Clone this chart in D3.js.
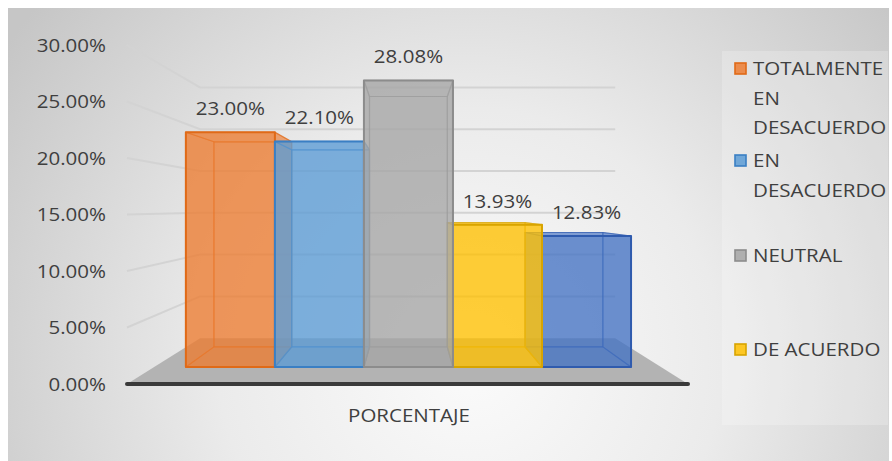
<!DOCTYPE html>
<html>
<head>
<meta charset="utf-8">
<script src="https://cdn.jsdelivr.net/npm/d3@7"></script>
<style>
  html, body { margin: 0; padding: 0; background: #ffffff; }
  svg { display: block; }
  text { font-family: "Open Sans", "Noto Sans", sans-serif; fill: #3F3F3F; }
</style>
</head>
<body>
<svg id="chart" width="892" height="461"></svg>
<script>
// ---- data ----
const categories = ["TOTALMENTE EN DESACUERDO", "EN DESACUERDO", "NEUTRAL", "DE ACUERDO", "TOTALMENTE DE ACUERDO"];
const values = [23.00, 22.10, 28.08, 13.93, 12.83];
const yTicks = [0, 5, 10, 15, 20, 25, 30];
const axisTitle = "PORCENTAJE";

// ---- styles ----
const fills   = ["#ED7D31", "#5B9BD5", "#A5A5A5", "#FFC000", "#4472C4"];
const strokes = ["#E06A17", "#3A7FC4", "#8C8C8C", "#D8A400", "#2F5BAE"];

const W = 892, H = 461;
const svg = d3.select("#chart");
const defs = svg.append("defs");

// chart area background: soft radial shading
const grad = defs.append("radialGradient").attr("id", "bg")
  .attr("gradientUnits", "userSpaceOnUse")
  .attr("cx", 470).attr("cy", 360).attr("r", 560);
grad.append("stop").attr("offset", "0%").attr("stop-color", "#FBFBFB");
grad.append("stop").attr("offset", "45%").attr("stop-color", "#EBEBEB");
grad.append("stop").attr("offset", "100%").attr("stop-color", "#C6C6C6");

svg.append("rect").attr("x", 8).attr("y", 8).attr("width", 881).attr("height", H - 8)
  .attr("fill", "url(#bg)");

// ---- 3D projection ----
// Values live on a front plane; depth shrinks points toward a vanishing point.
const vp = [408, 208];
const sFront = 0.903, sBack = 0.789, sWall = 0.74;
const proj = (x, y, s) => [vp[0] + (x - vp[0]) * s, vp[1] + (y - vp[1]) * s];

const y = d3.scaleLinear().domain([0, 30]).range([384, 45]);
const plotX = [127, 688];
const x = d3.scaleBand().domain(categories).range([162, 655]).padding(0);

// text helper: slight horizontal stretch of the face
const SX = 1.14;
function label(g, tx, ty, str, size, anchor) {
  return g.append("text")
    .attr("transform", `translate(${tx},${ty}) scale(${SX},1)`)
    .attr("text-anchor", anchor)
    .style("font-size", size + "px")
    .text(str);
}

// ---- gridlines: side wall diagonal + back wall horizontal ----
const line = d3.line();
const grid = svg.append("g");
yTicks.forEach(t => {
  if (t === 0) return;
  const a = proj(plotX[0], y(t), 1);
  const b = proj(plotX[0], y(t), sWall);
  const c = proj(plotX[1], y(t), sWall);
  grid.append("path").attr("d", line([a, b, c]))
    .attr("fill", "none").attr("stroke", "#D3D3D3").attr("stroke-width", 2);
});

// ---- floor ----
const floorPts = [
  proj(plotX[0], y(0), 1), proj(plotX[1], y(0), 1),
  proj(plotX[1], y(0), sWall), proj(plotX[0], y(0), sWall)
];
svg.append("path").attr("d", line(floorPts) + "Z").attr("fill", "#B3B3B3");
svg.append("line")
  .attr("x1", floorPts[0][0]).attr("x2", floorPts[1][0])
  .attr("y1", floorPts[0][1]).attr("y2", floorPts[1][1])
  .attr("stroke", "#3A3A3A").attr("stroke-width", 4).attr("stroke-linecap", "round");

// ---- bars (glass boxes), outer ones first ----
const order = d3.range(values.length).sort((i, j) => {
  const ci = x(categories[i]) + x.bandwidth() / 2, cj = x(categories[j]) + x.bandwidth() / 2;
  return Math.abs(cj - vp[0]) - Math.abs(ci - vp[0]);
});
const bars = svg.append("g");
order.forEach(i => {
  const x0 = x(categories[i]), x1 = x0 + x.bandwidth();
  const yt = y(values[i]), yb = y(0);
  const F = p => proj(p[0], p[1], sFront);
  const B = p => proj(p[0], p[1], sBack);
  const corners = [[x0, yt], [x1, yt], [x1, yb], [x0, yb]];
  const f = corners.map(F), b = corners.map(B);
  const faces = [
    b,                          // back
    [f[3], f[2], b[2], b[3]],   // bottom
    [f[0], f[3], b[3], b[0]],   // left
    [f[1], f[2], b[2], b[1]],   // right
    [f[0], f[1], b[1], b[0]]    // top
  ];
  const g = bars.append("g");
  faces.forEach(face => {
    g.append("path").attr("d", line(face) + "Z")
      .attr("fill", fills[i]).attr("fill-opacity", 0.42)
      .attr("stroke", strokes[i]).attr("stroke-opacity", 0.55).attr("stroke-width", 1.2)
      .attr("stroke-linejoin", "round");
  });
  g.append("path").attr("d", line(f) + "Z")
    .attr("fill", fills[i]).attr("fill-opacity", 0.62)
    .attr("stroke", strokes[i]).attr("stroke-width", 2)
    .attr("stroke-linejoin", "round");
});

// ---- data labels ----
const labels = svg.append("g");
values.forEach((v, i) => {
  const cx = x(categories[i]) + x.bandwidth() / 2;
  const top = proj(cx, y(v), sFront);
  label(labels, top[0], top[1] - 17, v.toFixed(2) + "%", 18, "middle");
});

// ---- value axis labels ----
const axis = svg.append("g");
yTicks.forEach(t => {
  label(axis, 106, y(t) + 6.5, t.toFixed(2) + "%", 18, "end");
});

// ---- category axis title ----
label(svg, 409, 422, axisTitle, 18, "middle");

// ---- legend ----
const lg = { x: 722, y: 51, w: 166, h: 374 };
svg.append("rect").attr("x", lg.x).attr("y", lg.y).attr("width", lg.w).attr("height", lg.h)
  .attr("fill", "#FFFFFF").attr("fill-opacity", 0.22);
const legend = svg.append("g");
const entryTop = [75, 167, 262, 356, 448];
const lineH = 29.5;
const maxW = 136;

// greedy word wrap using measured widths
const probe = svg.append("text").style("font-size", "18px").attr("visibility", "hidden");
function wrap(str) {
  const words = str.split(" ");
  const lines = [];
  let cur = "";
  words.forEach(w => {
    const test = cur ? cur + " " + w : w;
    probe.text(test);
    if (cur && probe.node().getComputedTextLength() * SX > maxW) {
      lines.push(cur); cur = w;
    } else cur = test;
  });
  lines.push(cur);
  return lines;
}
// entries that do not fit inside the legend box are left out
categories.forEach((c, i) => {
  const base = entryTop[i];
  const lines = wrap(c);
  if (base + 6 > lg.y + lg.h) return;
  legend.append("rect")
    .attr("x", 735).attr("y", base - 12).attr("width", 11).attr("height", 11)
    .attr("fill", fills[i]).attr("fill-opacity", 0.85)
    .attr("stroke", strokes[i]).attr("stroke-width", 1.6);
  lines.forEach((ln, k) => {
    if (base + k * lineH + 6 <= lg.y + lg.h) label(legend, 753, base + k * lineH, ln, 18, "start");
  });
});
probe.remove();
</script>
</body>
</html>
